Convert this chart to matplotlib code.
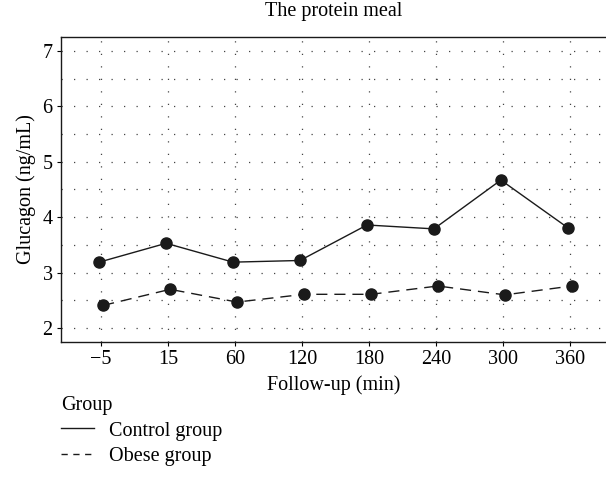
import matplotlib
matplotlib.use('Agg')
import matplotlib.pyplot as plt
from matplotlib.lines import Line2D
import numpy as np

plt.rcParams['font.family'] = ['Liberation Serif', 'DejaVu Serif']

# follow-up time points
times = ['\u22125', '15', '60', '120', '180', '240', '300', '360']

# glucagon (ng/mL)
control = [3.19, 3.53, 3.19, 3.22, 3.86, 3.79, 4.67, 3.81]
obese = [2.41, 2.70, 2.47, 2.61, 2.61, 2.76, 2.60, 2.76]

groups = ['Control group', 'Obese group']

x = np.arange(len(times))
fs = 14.5

fig = plt.figure(figsize=(6.06, 4.97), dpi=100)
ax = fig.add_axes([61/606, 155/497, 545/606, 305/497])

ax.plot(x - 0.03, control, color='#1a1a1a', lw=1.0, ls='-',
        marker='o', ms=8, mfc='#1a1a1a', mec='#1a1a1a')
ax.plot(x + 0.03, obese, color='#1a1a1a', lw=1.0, ls=(0, (8, 5)),
        marker='o', ms=8, mfc='#1a1a1a', mec='#1a1a1a')

ax.set_xlim(-0.6, 7.54)
ax.set_ylim(1.75, 7.25)
ax.set_xticks(x)
ax.set_xticklabels(times)
ax.set_yticks([2, 3, 4, 5, 6, 7])
ax.set_yticks(np.arange(2.5, 7.0, 1.0), minor=True)
ax.tick_params(axis='both', which='major', direction='out', length=3,
               width=0.8, labelsize=fs, pad=3)
ax.tick_params(axis='y', which='minor', length=0)

# dotted grid
ax.grid(True, which='both', axis='y', color='#444444', lw=0.9,
        ls=(0, (1, 9)))
ax.grid(True, which='major', axis='x', color='#444444', lw=0.9,
        ls=(0, (1, 9)))
ax.set_axisbelow(True)

for s in ['left', 'top', 'bottom']:
    ax.spines[s].set_linewidth(1.0)
    ax.spines[s].set_color('#1a1a1a')
ax.spines['right'].set_visible(False)

ax.set_title('The protein meal', fontsize=fs, pad=15)
ax.set_xlabel('Follow-up (min)', fontsize=fs, labelpad=4)
ax.set_ylabel('Glucagon (ng/mL)', fontsize=fs, labelpad=5)

handles = [Line2D([], [], color='#1a1a1a', lw=1.0, ls='-'),
           Line2D([], [], color='#1a1a1a', lw=1.0, ls=(0, (4.5, 4)))]
leg = fig.legend(handles, groups, title='Group', loc='upper left',
                 bbox_to_anchor=(61/606, 1 - 396/497), frameon=False,
                 fontsize=fs, title_fontsize=fs, alignment='left',
                 borderpad=0, borderaxespad=0,
                 handlelength=1.65, handletextpad=0.75, labelspacing=0.32)

fig.savefig('out.png', dpi=100)
